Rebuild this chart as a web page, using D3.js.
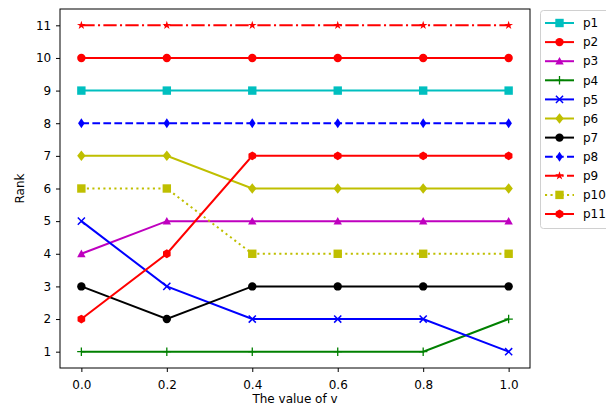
<!DOCTYPE html>
<html><head><meta charset="utf-8">
<script src="https://cdn.jsdelivr.net/npm/d3@7"></script>
<style>body{margin:0;background:#fff;} svg{display:block;font-family:"DejaVu Sans",sans-serif;}</style>
</head><body>
<script>
const xValues = [0.0, 0.2, 0.4, 0.6, 0.8, 1.0];
const seriesNames = ["p1","p2","p3","p4","p5","p6","p7","p8","p9","p10","p11"];
const p1 = [9,9,9,9,9,9];
const p2 = [10,10,10,10,10,10];
const p3 = [4,5,5,5,5,5];
const p4 = [1,1,1,1,1,2];
const p5 = [5,3,2,2,2,1];
const p6 = [7,7,6,6,6,6];
const p7 = [3,2,3,3,3,3];
const p8 = [8,8,8,8,8,8];
const p9 = [11,11,11,11,11,11];
const p10 = [6,6,4,4,4,4];
const p11 = [2,4,7,7,7,7];
const xTicks = [0.0,0.2,0.4,0.6,0.8,1.0];
const yTicks = [1,2,3,4,5,6,7,8,9,10,11];

const styles = {
  p1:{color:"#00bfbf", dash:null, marker:"square"},
  p2:{color:"#ff0000", dash:null, marker:"circle"},
  p3:{color:"#bf00bf", dash:null, marker:"triangle"},
  p4:{color:"#008000", dash:null, marker:"plus"},
  p5:{color:"#0000ff", dash:null, marker:"x"},
  p6:{color:"#bfbf00", dash:null, marker:"diamond"},
  p7:{color:"#000000", dash:null, marker:"circle"},
  p8:{color:"#0000ff", dash:"7.7,3.3", marker:"thindiamond"},
  p9:{color:"#ff0000", dash:"13.3,3.3,2.1,3.3", marker:"star"},
  p10:{color:"#bfbf00", dash:"2.1,3.4", marker:"square"},
  p11:{color:"#ff0000", dash:null, marker:"hexagon"}
};
const dataMap = {p1,p2,p3,p4,p5,p6,p7,p8,p9,p10,p11};

const W=606,H=407;
const m={left:60,right:530,top:9,bottom:368};
const svg=d3.select("body").append("svg").attr("width",W).attr("height",H);
const x=d3.scaleLinear().domain([-0.05,1.05]).range([m.left,m.right]);
const y=d3.scaleLinear().domain([0.5,11.5]).range([m.bottom,m.top]);

function drawMarker(g, type, color, cx, cy){
  const s=4.2;
  if(type==="circle"){
    g.append("circle").attr("cx",cx).attr("cy",cy).attr("r",s).attr("fill",color);
  } else if(type==="square"){
    g.append("rect").attr("x",cx-s).attr("y",cy-s).attr("width",2*s).attr("height",2*s).attr("fill",color);
  } else if(type==="triangle"){
    g.append("path").attr("d",`M${cx},${cy-s}L${cx+s},${cy+s*0.8}L${cx-s},${cy+s*0.8}Z`).attr("fill",color);
  } else if(type==="plus"){
    g.append("path").attr("d",`M${cx-s},${cy}L${cx+s},${cy}M${cx},${cy-s}L${cx},${cy+s}`).attr("stroke",color).attr("stroke-width",1.3);
  } else if(type==="x"){
    const t=s*0.85;
    g.append("path").attr("d",`M${cx-t},${cy-t}L${cx+t},${cy+t}M${cx-t},${cy+t}L${cx+t},${cy-t}`).attr("stroke",color).attr("stroke-width",1.5);
  } else if(type==="diamond"){
    const a=s*1.25;
    g.append("path").attr("d",`M${cx},${cy-a}L${cx+a*0.8},${cy}L${cx},${cy+a}L${cx-a*0.8},${cy}Z`).attr("fill",color);
  } else if(type==="thindiamond"){
    const a=s*1.2;
    g.append("path").attr("d",`M${cx},${cy-a}L${cx+a*0.65},${cy}L${cx},${cy+a}L${cx-a*0.65},${cy}Z`).attr("fill",color);
  } else if(type==="star"){
    g.append("path").attr("d",d3.symbol().type(d3.symbolStar).size(24)()).attr("transform",`translate(${cx},${cy})`).attr("fill",color);
  } else if(type==="hexagon"){
    const pts=d3.range(6).map(i=>{const a=Math.PI/2+i*Math.PI/3;return [cx+s*1.05*Math.cos(a),cy-s*1.05*Math.sin(a)];});
    g.append("path").attr("d","M"+pts.map(p=>p.join(",")).join("L")+"Z").attr("fill",color);
  }
}

// series
const line=d3.line().x(d=>x(d[0])).y(d=>y(d[1]));
seriesNames.forEach(n=>{
  const st=styles[n];
  const pts=xValues.map((v,i)=>[v,dataMap[n][i]]);
  const g=svg.append("g");
  g.append("path").attr("d",line(pts)).attr("fill","none").attr("stroke",st.color).attr("stroke-width",2)
    .attr("stroke-dasharray",st.dash);
  pts.forEach(p=>drawMarker(g,st.marker,st.color,x(p[0]),y(p[1])));
});

// axes
const xAxis=svg.append("g").attr("transform",`translate(0,${m.bottom})`)
  .call(d3.axisBottom(x).tickValues(xTicks).tickFormat(d3.format(".1f")).tickSizeOuter(0).tickSize(4));
const yAxis=svg.append("g").attr("transform",`translate(${m.left},0)`)
  .call(d3.axisLeft(y).tickValues(yTicks).tickSizeOuter(0).tickSize(4));
[xAxis,yAxis].forEach(a=>{a.select(".domain").remove();a.selectAll("text").attr("font-size",12).attr("fill","#000").attr("font-family","DejaVu Sans");a.selectAll("line").attr("stroke","#000");});
xAxis.selectAll("text").attr("dy","1.2em");
yAxis.selectAll("text").attr("dx","-0.15em");

svg.append("rect").attr("x",m.left).attr("y",m.top).attr("width",m.right-m.left).attr("height",m.bottom-m.top)
  .attr("fill","none").attr("stroke","#000").attr("stroke-width",1);

svg.append("text").attr("x",(m.left+m.right)/2).attr("y",403).attr("text-anchor","middle").attr("font-size",12).text("The value of v");
svg.append("text").attr("transform",`translate(24,${(m.top+m.bottom)/2}) rotate(-90)`).attr("text-anchor","middle").attr("font-size",12).text("Rank");

// legend
const lg=svg.append("g");
lg.append("rect").attr("x",540.5).attr("y",10.5).attr("width",80).attr("height",218).attr("rx",3)
  .attr("fill","#fff").attr("stroke","#d0d0d0");
seriesNames.forEach((n,i)=>{
  const st=styles[n];
  const cy=23+i*19.1;
  lg.append("line").attr("x1",545).attr("x2",574).attr("y1",cy).attr("y2",cy).attr("stroke",st.color).attr("stroke-width",2).attr("stroke-dasharray",st.dash);
  drawMarker(lg,st.marker,st.color,559.5,cy);
  lg.append("text").attr("x",583).attr("y",cy).attr("dy","0.35em").attr("font-size",12).text(n);
});
</script>
</body></html>
